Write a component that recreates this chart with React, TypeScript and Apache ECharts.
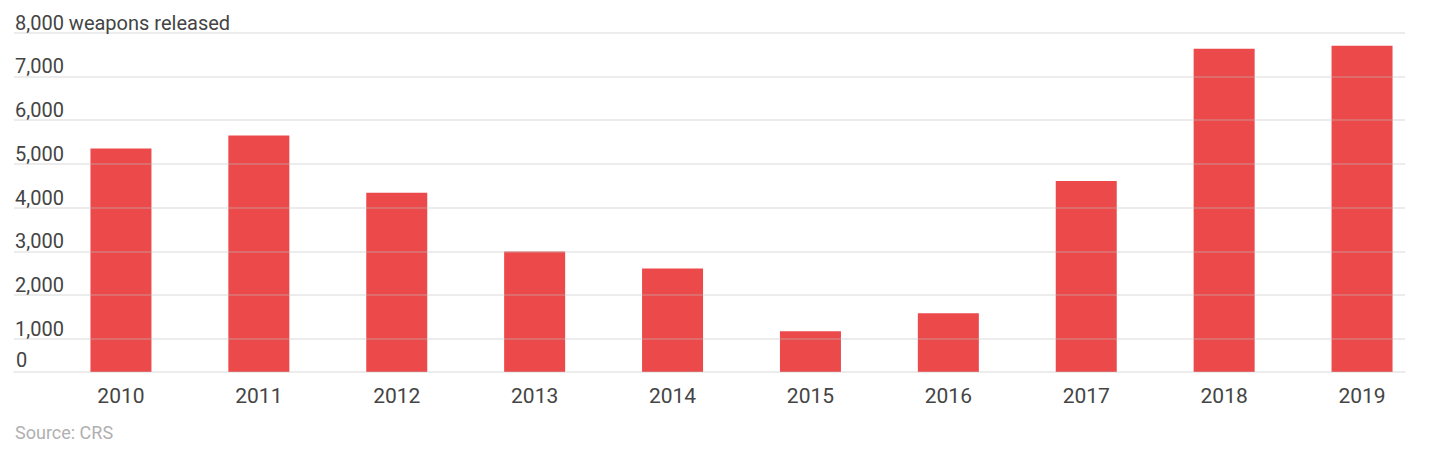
import React, { useEffect, useRef } from "react";
import * as echarts from "echarts";

const years = ["2010", "2011", "2012", "2013", "2014", "2015", "2016", "2017", "2018", "2019"];
const weaponsReleased = [5350, 5650, 4340, 3000, 2610, 1180, 1590, 4610, 7630, 7700];
const yMin = 0;
const yMax = 8000;
const yInterval = 1000;
const barBase = 250;
const axisTitle = "weapons released";
const zeroLabel = "0";
const sourceNote = "Source: CRS";

export default function App() {
  const ref = useRef<HTMLDivElement>(null);
  useEffect(() => {
    if (!ref.current) return;
    const chart = echarts.init(ref.current, null, { renderer: "svg" });
    const font = "Roboto, 'Noto Sans', sans-serif";
    const gridColor = "rgba(190,190,190,0.4)";
    const top = 32.5;
    const nTicks = (yMax - yMin) / yInterval + 1;
    const splitColors = Array.from({ length: nTicks }, (_, i) => (i === 0 ? "rgba(0,0,0,0)" : gridColor));
    chart.setOption({
      animation: false,
      backgroundColor: "#ffffff",
      grid: [
        { left: 14, right: 35, top, bottom: 78.2 },
        { left: 52, right: 9, top, bottom: 89 },
        { left: 14, right: 35, top, bottom: 89 },
      ],
      xAxis: [
        { type: "category", gridIndex: 0, data: years, show: false },
        {
          type: "category",
          gridIndex: 1,
          data: years,
          axisLine: { show: false },
          axisTick: { show: false },
          axisLabel: { color: "#444", fontSize: 21, fontFamily: font, margin: 13 },
        },
        {
          type: "category",
          gridIndex: 2,
          data: years,
          z: 5,
          axisLine: { show: true, lineStyle: { color: gridColor, width: 1.5 } },
          axisTick: { show: false },
          axisLabel: { show: false },
        },
      ],
      yAxis: [
        {
          type: "value",
          gridIndex: 0,
          min: yMin,
          max: yMax,
          interval: yInterval,
          z: 5,
          axisLine: { show: false },
          axisTick: { show: false },
          splitLine: { show: true, lineStyle: { color: splitColors, width: 1.5 } },
          axisLabel: {
            inside: true,
            margin: 1,
            verticalAlign: "bottom",
            color: "#444",
            fontSize: 20,
            fontFamily: font,
            formatter: (v: number) =>
              v === yMin ? "" : v === yMax ? `${v.toLocaleString("en-US")} ${axisTitle}` : v.toLocaleString("en-US"),
          },
        },
        {
          type: "value",
          gridIndex: 1,
          min: barBase,
          max: yMax,
          show: false,
          splitLine: { show: false },
        },
        {
          type: "value",
          gridIndex: 2,
          min: barBase,
          max: yMax,
          axisLine: { show: false },
          axisTick: { show: false },
          axisLabel: { show: false },
          splitLine: { show: false },
          name: zeroLabel,
          nameLocation: "start",
          nameGap: 0,
          nameTextStyle: {
            color: "#444",
            fontSize: 20,
            fontFamily: font,
            align: "left",
            verticalAlign: "bottom",
            padding: [0, 0, 2, 2],
          },
        },
      ],
      series: [
        {
          type: "bar",
          xAxisIndex: 1,
          yAxisIndex: 1,
          data: weaponsReleased,
          barWidth: 61,
          z: 2,
          itemStyle: { color: "#ec494b" },
        },
      ],
      graphic: [
        {
          type: "text",
          left: 15,
          top: 423,
          style: { text: sourceNote, fill: "#b0b0b0", fontSize: 18, fontFamily: font },
        },
      ],
    });
    return () => chart.dispose();
  }, []);
  return (
    <div
      ref={ref}
      style={{ position: "fixed", left: 0, top: 0, width: 1440, height: 461, background: "#fff" }}
    />
  );
}
